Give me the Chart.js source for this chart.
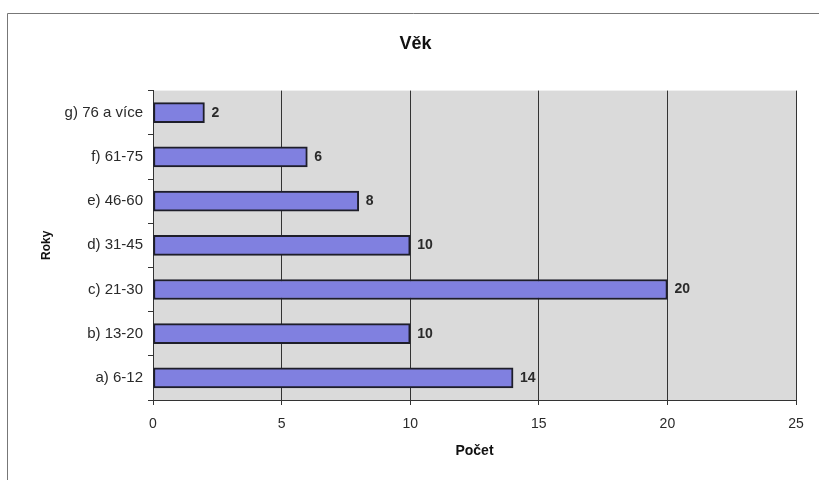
<!DOCTYPE html>
<html>
<head>
<meta charset="utf-8">
<script src="https://cdn.jsdelivr.net/npm/chart.js@4"></script>
<style>
  html, body { margin: 0; padding: 0; background: #fff; }
  #wrap { width: 819px; height: 480px; position: relative; }
</style>
</head>
<body>
<div id="wrap"><canvas id="vekChart" width="819" height="480"></canvas></div>
<script>
// data (top to bottom as in the picture)
const categories = ['g) 76 a více', 'f) 61-75', 'e) 46-60', 'd) 31-45', 'c) 21-30', 'b) 13-20', 'a) 6-12'];
const counts = [2, 6, 8, 10, 20, 10, 14];
const xTicks = [0, 5, 10, 15, 20, 25];

const textColor = '#2a2a2a';
const fontFamily = '"Liberation Sans", Arial, sans-serif';

// frame lines + grey plot background
const backdrop = {
    id: 'backdrop',
    beforeDraw(chart) {
        const ctx = chart.ctx;
        const a = chart.chartArea;
        ctx.save();
        ctx.fillStyle = '#fff';
        ctx.fillRect(0, 0, chart.width, chart.height);
        ctx.strokeStyle = '#777';
        ctx.lineWidth = 1;
        ctx.beginPath();
        ctx.moveTo(7.5, chart.height);
        ctx.lineTo(7.5, 13.5);
        ctx.lineTo(chart.width, 13.5);
        ctx.stroke();
        ctx.fillStyle = '#dadada';
        ctx.fillRect(a.left, a.top, a.right - a.left, a.bottom - a.top);
        ctx.restore();
    }
};

// value labels right of each bar
const valueLabels = {
    id: 'valueLabels',
    afterDatasetsDraw(chart) {
        const ctx = chart.ctx;
        const meta = chart.getDatasetMeta(0);
        ctx.save();
        ctx.font = 'bold 14px ' + fontFamily;
        ctx.fillStyle = textColor;
        ctx.textAlign = 'left';
        ctx.textBaseline = 'middle';
        meta.data.forEach(function(bar, i) {
            ctx.fillText(String(counts[i]), bar.x + 7, bar.y);
        });
        ctx.restore();
    }
};

new Chart(document.getElementById('vekChart'), {
    type: 'bar',
    data: {
        labels: categories,
        datasets: [{
            data: counts,
            backgroundColor: '#8080e0',
            borderColor: '#1e1e2a',
            borderWidth: 2,
            borderSkipped: false,
            barThickness: 20
        }]
    },
    options: {
        indexAxis: 'y',
        responsive: false,
        animation: false,
        layout: { padding: { left: 35, right: 23, top: 14, bottom: 10 } },
        plugins: {
            legend: { display: false },
            tooltip: { enabled: false },
            title: {
                display: true,
                text: 'Věk',
                color: '#111',
                font: { family: fontFamily, size: 18, weight: 'bold' },
                padding: { top: 19, bottom: 36 }
            }
        },
        scales: {
            x: {
                min: 0,
                max: 25,
                afterBuildTicks(scale) {
                    scale.ticks = xTicks.map(v => ({ value: v }));
                },
                afterFit(scale) { scale.height = 70; },
                grid: {
                    color: '#333',
                    lineWidth: 1,
                    tickLength: 5,
                    drawOnChartArea: true
                },
                border: { display: true, color: '#333', width: 1 },
                ticks: {
                    color: textColor,
                    padding: 11,
                    font: { family: fontFamily, size: 14 }
                },
                title: {
                    display: true,
                    text: 'Počet',
                    color: '#111',
                    font: { family: fontFamily, size: 14, weight: 'bold' },
                    padding: { top: 10, bottom: 10 }
                }
            },
            y: {
                afterFit(scale) { scale.width = 118; },
                grid: {
                    color: '#333',
                    tickLength: 5,
                    drawOnChartArea: false
                },
                border: { display: true, color: '#333', width: 1 },
                ticks: {
                    color: textColor,
                    padding: 5,
                    font: { family: fontFamily, size: 15 }
                },
                title: {
                    display: true,
                    text: 'Roky',
                    color: '#111',
                    font: { family: fontFamily, size: 12, weight: 'bold' },
                    padding: { top: 4, bottom: 4 }
                }
            }
        }
    },
    plugins: [backdrop, valueLabels]
});
</script>
</body>
</html>
